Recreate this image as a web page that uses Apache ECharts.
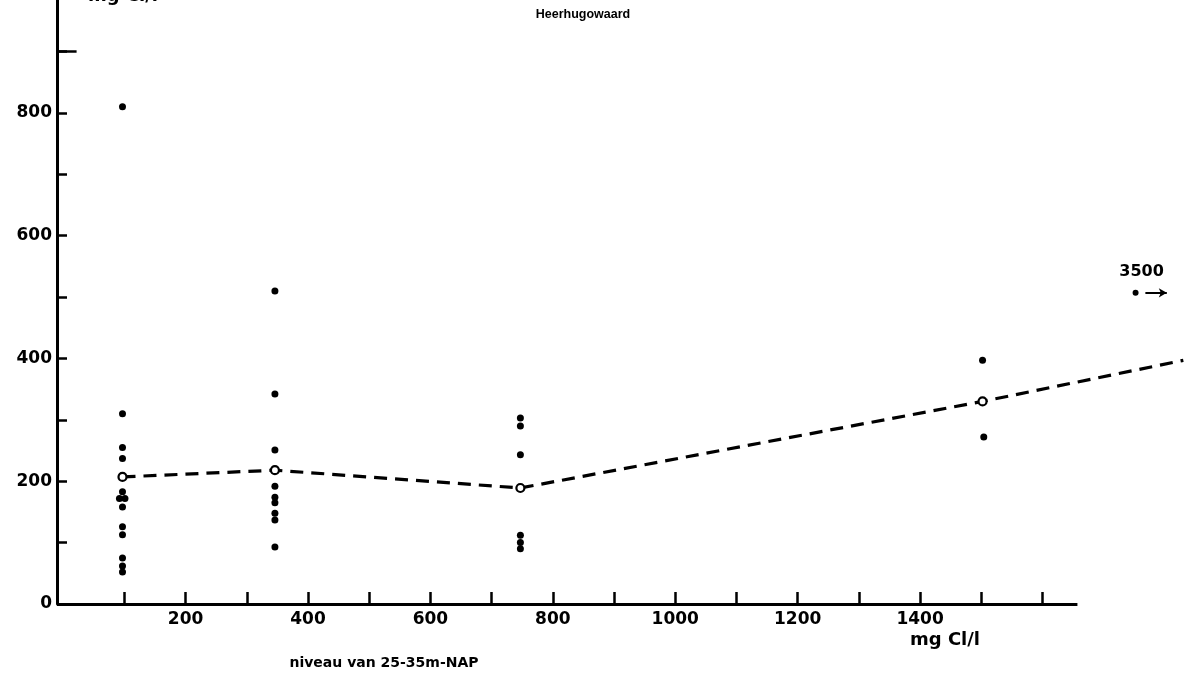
<!DOCTYPE html>
<html><head><meta charset="utf-8">
<script src="https://cdn.jsdelivr.net/npm/echarts@6/dist/echarts.min.js"></script>
<style>html,body{margin:0;padding:0;background:#fff}#c{width:1187px;height:678px}</style>
</head><body><div id="c"></div>
<script>
// ---- data ----
const title = 'Heerhugowaard';
const yUnit = 'mg Cl/l';
const xUnit = 'mg Cl/l';
const subtitle = 'niveau van 25-35m-NAP';

const xTickValues = [100,200,300,400,500,600,700,800,900,1000,1100,1200,1300,1400,1500,1600];
const xLabelValues = [200,400,600,800,1000,1200,1400];
const yTickValues = [100,200,300,400,500,600,700,800,900];
const yLabelValues = [0,200,400,600,800];
const xAxisLineEnd = 1657;   // drawn x-axis stops here (mg Cl/l)
const yLongTick = 900;       // the longer tick at the top of the y-axis

// individual measurements per class (x = class value, y = measured value)
const class100 = [[97,810],[97,310],[97,255],[97,237],[97,183],[92,172],[101,172],[97,158],[97,126],[97,113],[97,75],[97,62],[97,52]];
const class350 = [[346,510],[346,342],[346,251],[346,192],[346,174],[346,165],[346,148],[346,137],[346,93]];
const class750 = [[747,303],[747,290],[747,243],[747,112],[747,100],[747,90]];
const class1500 = [[1502,397],[1504,272]];

// class means (open circles) joined by dashed line
const means = [[97,207],[346,218],[747,189],[1502,330]];
const trendEnd = [1830,397];

// off-scale value (3500 mg Cl/l), drawn at the right edge
const offScaleLabel = '3500';
const offScalePoint = [1752,507];
const offScaleArrow = [[1768,507],[1803,507]];

// ---- chart ----
const font = 'DejaVu Sans';
const chart = echarts.init(document.getElementById('c'), null, {renderer:'canvas'});
chart.setOption({
  animation:false,
  backgroundColor:'#fff',
  grid:{left:57, right:0, top:0, bottom:74, containLabel:false},
  xAxis:{
    type:'value', min:-10, max:1836,
    axisLine:{show:false},
    axisTick:{show:true, inside:true, length:12, customValues:xTickValues, lineStyle:{color:'#000', width:2.5}},
    axisLabel:{show:true, customValues:xLabelValues, margin:7, color:'#000', fontFamily:font, fontWeight:'bold', fontSize:17,
               formatter:function(v){return String(v);}},
    splitLine:{show:false}
  },
  yAxis:{
    type:'value', min:0, max:984,
    axisLine:{show:true, onZero:false, lineStyle:{color:'#000', width:3}},
    axisTick:{show:true, inside:true, length:10, customValues:yTickValues, lineStyle:{color:'#000', width:2.5}},
    axisLabel:{show:true, customValues:yLabelValues, margin:5, color:'#000', fontFamily:font, fontWeight:'bold', fontSize:17,
               formatter:function(v){return String(v);}},
    splitLine:{show:false}
  },
  graphic:[
    {type:'text', x:583, y:15, style:{text:title, fill:'#000', font:'bold 12.5px "Liberation Sans"', textAlign:'center', textVerticalAlign:'middle'}},
    {type:'text', x:123, y:-4, style:{text:yUnit, fill:'#000', font:'bold 18px "DejaVu Sans"', textAlign:'center', textVerticalAlign:'middle'}},
    {type:'text', x:945, y:640, style:{text:xUnit, fill:'#000', font:'bold 18px "DejaVu Sans"', textAlign:'center', textVerticalAlign:'middle'}},
    {type:'text', x:384, y:663, style:{text:subtitle, fill:'#000', font:'bold 14px "DejaVu Sans"', textAlign:'center', textVerticalAlign:'middle'}}
  ],
  series:[
    {type:'line', data:means.concat([trendEnd]), showSymbol:false, clip:false, z:2,
     lineStyle:{color:'#000', width:3.2, type:[13,8]},
     markLine:{silent:true, symbol:['none','none'], label:{show:false}, animation:false,
       lineStyle:{color:'#000', width:3, type:'solid'},
       emphasis:{disabled:true},
       data:[
         [{coord:[-10,0]},{coord:[xAxisLineEnd,0]}],
         [{coord:[-10,yLongTick], lineStyle:{width:2.5}},{coord:[22,yLongTick]}]
       ]}},
    {type:'scatter', data:[].concat(class100, class350, class750, class1500), symbol:'circle', symbolSize:7, z:3,
     itemStyle:{color:'#000', opacity:1}},
    {type:'scatter', data:means, symbol:'circle', symbolSize:8, z:4,
     itemStyle:{color:'#fff', borderColor:'#000', borderWidth:2.2, opacity:1}},
    {type:'scatter', data:[offScalePoint], symbol:'circle', symbolSize:6, clip:false, z:3,
     itemStyle:{color:'#000', opacity:1},
     label:{show:true, position:'top', distance:10, formatter:offScaleLabel, color:'#000', fontFamily:font, fontWeight:'bold', fontSize:16, offset:[6,0]},
     markLine:{silent:true, symbol:['none','arrow'], symbolSize:[7,8], label:{show:false},
       lineStyle:{color:'#000', width:2, type:'solid'},
       data:[[{coord:offScaleArrow[0]},{coord:offScaleArrow[1]}]]}}
  ]
});
</script>
</body></html>
